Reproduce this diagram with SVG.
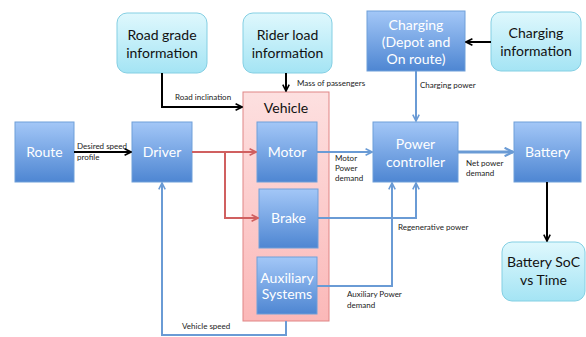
<svg xmlns="http://www.w3.org/2000/svg" width="586" height="337" viewBox="0 0 586 337">
  <style>
    .blk { fill: url(#gBlue); stroke: #6f9fd9; stroke-width: 1; }
    .info { fill: url(#gCyan); stroke: #84cfe3; stroke-width: 1; }
    .veh { fill: url(#gPink); stroke: #e08585; stroke-width: 1; }
    .wt { font-family: Lato, "Open Sans", "Liberation Sans", sans-serif; font-size: 14px; fill: #ffffff; text-anchor: middle; }
    .bt { font-family: Lato, "Open Sans", "Liberation Sans", sans-serif; font-size: 14px; fill: #111111; text-anchor: middle; }
    .lbl { font-family: Lato, "Open Sans", "Liberation Sans", sans-serif; font-size: 8px; fill: #222222; }
    .k { fill: none; stroke: #000000; stroke-width: 2; }
    .b { fill: none; stroke: #6a9bd5; stroke-width: 2; }
    .bw { fill: none; stroke: #6a9bd5; stroke-width: 3; }
    .r { fill: none; stroke: #d06060; stroke-width: 2; }
  </style>
  <defs>
    <linearGradient id="gBlue" x1="0" y1="0" x2="0" y2="1">
      <stop offset="0" stop-color="#a3c7f7"/>
      <stop offset="1" stop-color="#4e86d2"/>
    </linearGradient>
    <linearGradient id="gCyan" x1="0" y1="0" x2="0" y2="1">
      <stop offset="0" stop-color="#dff8fd"/>
      <stop offset="1" stop-color="#a4e4f4"/>
    </linearGradient>
    <linearGradient id="gPink" x1="0" y1="0" x2="0" y2="1">
      <stop offset="0" stop-color="#fde0e0"/>
      <stop offset="1" stop-color="#fbb8b8"/>
    </linearGradient>
    <marker id="aK" viewBox="0 0 10 10" refX="9" refY="5" markerWidth="4" markerHeight="4" orient="auto">
      <path d="M1,1 L9,5 L1,9" fill="none" stroke="#000000" stroke-width="2"/>
    </marker>
    <marker id="aB" viewBox="0 0 10 10" refX="9" refY="5" markerWidth="4" markerHeight="4" orient="auto">
      <path d="M1,1 L9,5 L1,9" fill="none" stroke="#6a9bd5" stroke-width="2"/>
    </marker>
    <marker id="aBw" viewBox="0 0 10 10" refX="9" refY="5" markerWidth="3.5" markerHeight="3.5" orient="auto">
      <path d="M1,1 L9,5 L1,9" fill="none" stroke="#6a9bd5" stroke-width="2"/>
    </marker>
    <marker id="aR" viewBox="0 0 10 10" refX="9" refY="5" markerWidth="4" markerHeight="4" orient="auto">
      <path d="M1,1 L9,5 L1,9" fill="none" stroke="#d06060" stroke-width="2"/>
    </marker>
  </defs>

  <!-- vehicle container -->
  <g id="vehicle">
    <rect class="veh" x="243" y="92" width="86" height="229"/>
    <text class="bt" x="286" y="113" font-size="15">Vehicle</text>
  </g>

  <g id="route">
    <rect class="blk" x="15" y="122" width="59" height="60"/>
    <text class="wt" x="44.5" y="157">Route</text>
  </g>
  <g id="driver">
    <rect class="blk" x="132" y="122" width="60" height="60"/>
    <text class="wt" x="162" y="157">Driver</text>
  </g>
  <g id="road-grade">
    <rect class="info" x="117" y="13" width="90" height="60" rx="10"/>
    <text class="bt" x="162" y="40">Road grade</text>
    <text class="bt" x="162" y="58">information</text>
  </g>
  <g id="rider-load">
    <rect class="info" x="243" y="13" width="89" height="60" rx="10"/>
    <text class="bt" x="287.5" y="40">Rider load</text>
    <text class="bt" x="287.5" y="58">information</text>
  </g>
  <g id="charging">
    <rect class="blk" x="367" y="11" width="98" height="60"/>
    <text class="wt" x="416" y="30">Charging</text>
    <text class="wt" x="416" y="47">(Depot and</text>
    <text class="wt" x="416" y="64">On route)</text>
  </g>
  <g id="charging-info">
    <rect class="info" x="491" y="12" width="90" height="59" rx="10"/>
    <text class="bt" x="536" y="38">Charging</text>
    <text class="bt" x="536" y="56">information</text>
  </g>
  <g id="motor">
    <rect class="blk" x="257" y="122" width="60" height="60"/>
    <text class="wt" x="287" y="157">Motor</text>
  </g>
  <g id="brake">
    <rect class="blk" x="259" y="189" width="59" height="59"/>
    <text class="wt" x="288.5" y="223">Brake</text>
  </g>
  <g id="auxiliary">
    <rect class="blk" x="257" y="257" width="60" height="57"/>
    <text class="wt" x="287" y="283" font-size="13">Auxiliary</text>
    <text class="wt" x="287" y="299" font-size="13">Systems</text>
  </g>
  <g id="power-controller">
    <rect class="blk" x="373" y="122" width="85" height="60"/>
    <text class="wt" x="415.5" y="149">Power</text>
    <text class="wt" x="415.5" y="167">controller</text>
  </g>
  <g id="battery">
    <rect class="blk" x="514" y="122" width="67" height="60"/>
    <text class="wt" x="547.5" y="157">Battery</text>
  </g>
  <g id="battery-soc">
    <rect class="info" x="502" y="242" width="83" height="59" rx="10"/>
    <text class="bt" x="543.5" y="267">Battery SoC</text>
    <text class="bt" x="543.5" y="285">vs Time</text>
  </g>

  <g id="connectors">
    <path class="k" d="M74,152 H131" marker-end="url(#aK)"/>
    <path class="k" d="M162,73 V107 H242" marker-end="url(#aK)"/>
    <path class="k" d="M286,73 V91" marker-end="url(#aK)"/>
    <path class="k" d="M491,42 H466" marker-end="url(#aK)"/>
    <path class="k" d="M547,182 V241" marker-end="url(#aK)"/>
    <path class="b" d="M416,71 V121" marker-end="url(#aB)"/>
    <path class="r" d="M192,152 H256" marker-end="url(#aR)"/>
    <path class="r" d="M225,152 V218 H258" marker-end="url(#aR)"/>
    <path class="b" d="M317,152 H372" marker-end="url(#aB)"/>
    <path class="b" d="M318,218 H416 V183" marker-end="url(#aB)"/>
    <path class="b" d="M317,286 H392 V183" marker-end="url(#aB)"/>
    <path class="bw" d="M458,152 H513" marker-end="url(#aBw)"/>
    <path class="b" d="M286,321 V335 H162 V183" marker-end="url(#aB)"/>
  </g>

  <g id="labels">
    <text class="lbl" x="77" y="149">Desired speed</text>
    <text class="lbl" x="77" y="160">profile</text>
    <text class="lbl" x="175" y="100">Road inclination</text>
    <text class="lbl" x="297" y="86">Mass of passengers</text>
    <text class="lbl" x="420" y="88">Charging power</text>
    <text class="lbl" x="335" y="161">Motor</text>
    <text class="lbl" x="335" y="171">Power</text>
    <text class="lbl" x="335" y="181">demand</text>
    <text class="lbl" x="466" y="166">Net power</text>
    <text class="lbl" x="466" y="176">demand</text>
    <text class="lbl" x="398" y="230">Regenerative power</text>
    <text class="lbl" x="347" y="297">Auxiliary Power</text>
    <text class="lbl" x="347" y="308">demand</text>
    <text class="lbl" x="182" y="329">Vehicle speed</text>
  </g>
</svg>
